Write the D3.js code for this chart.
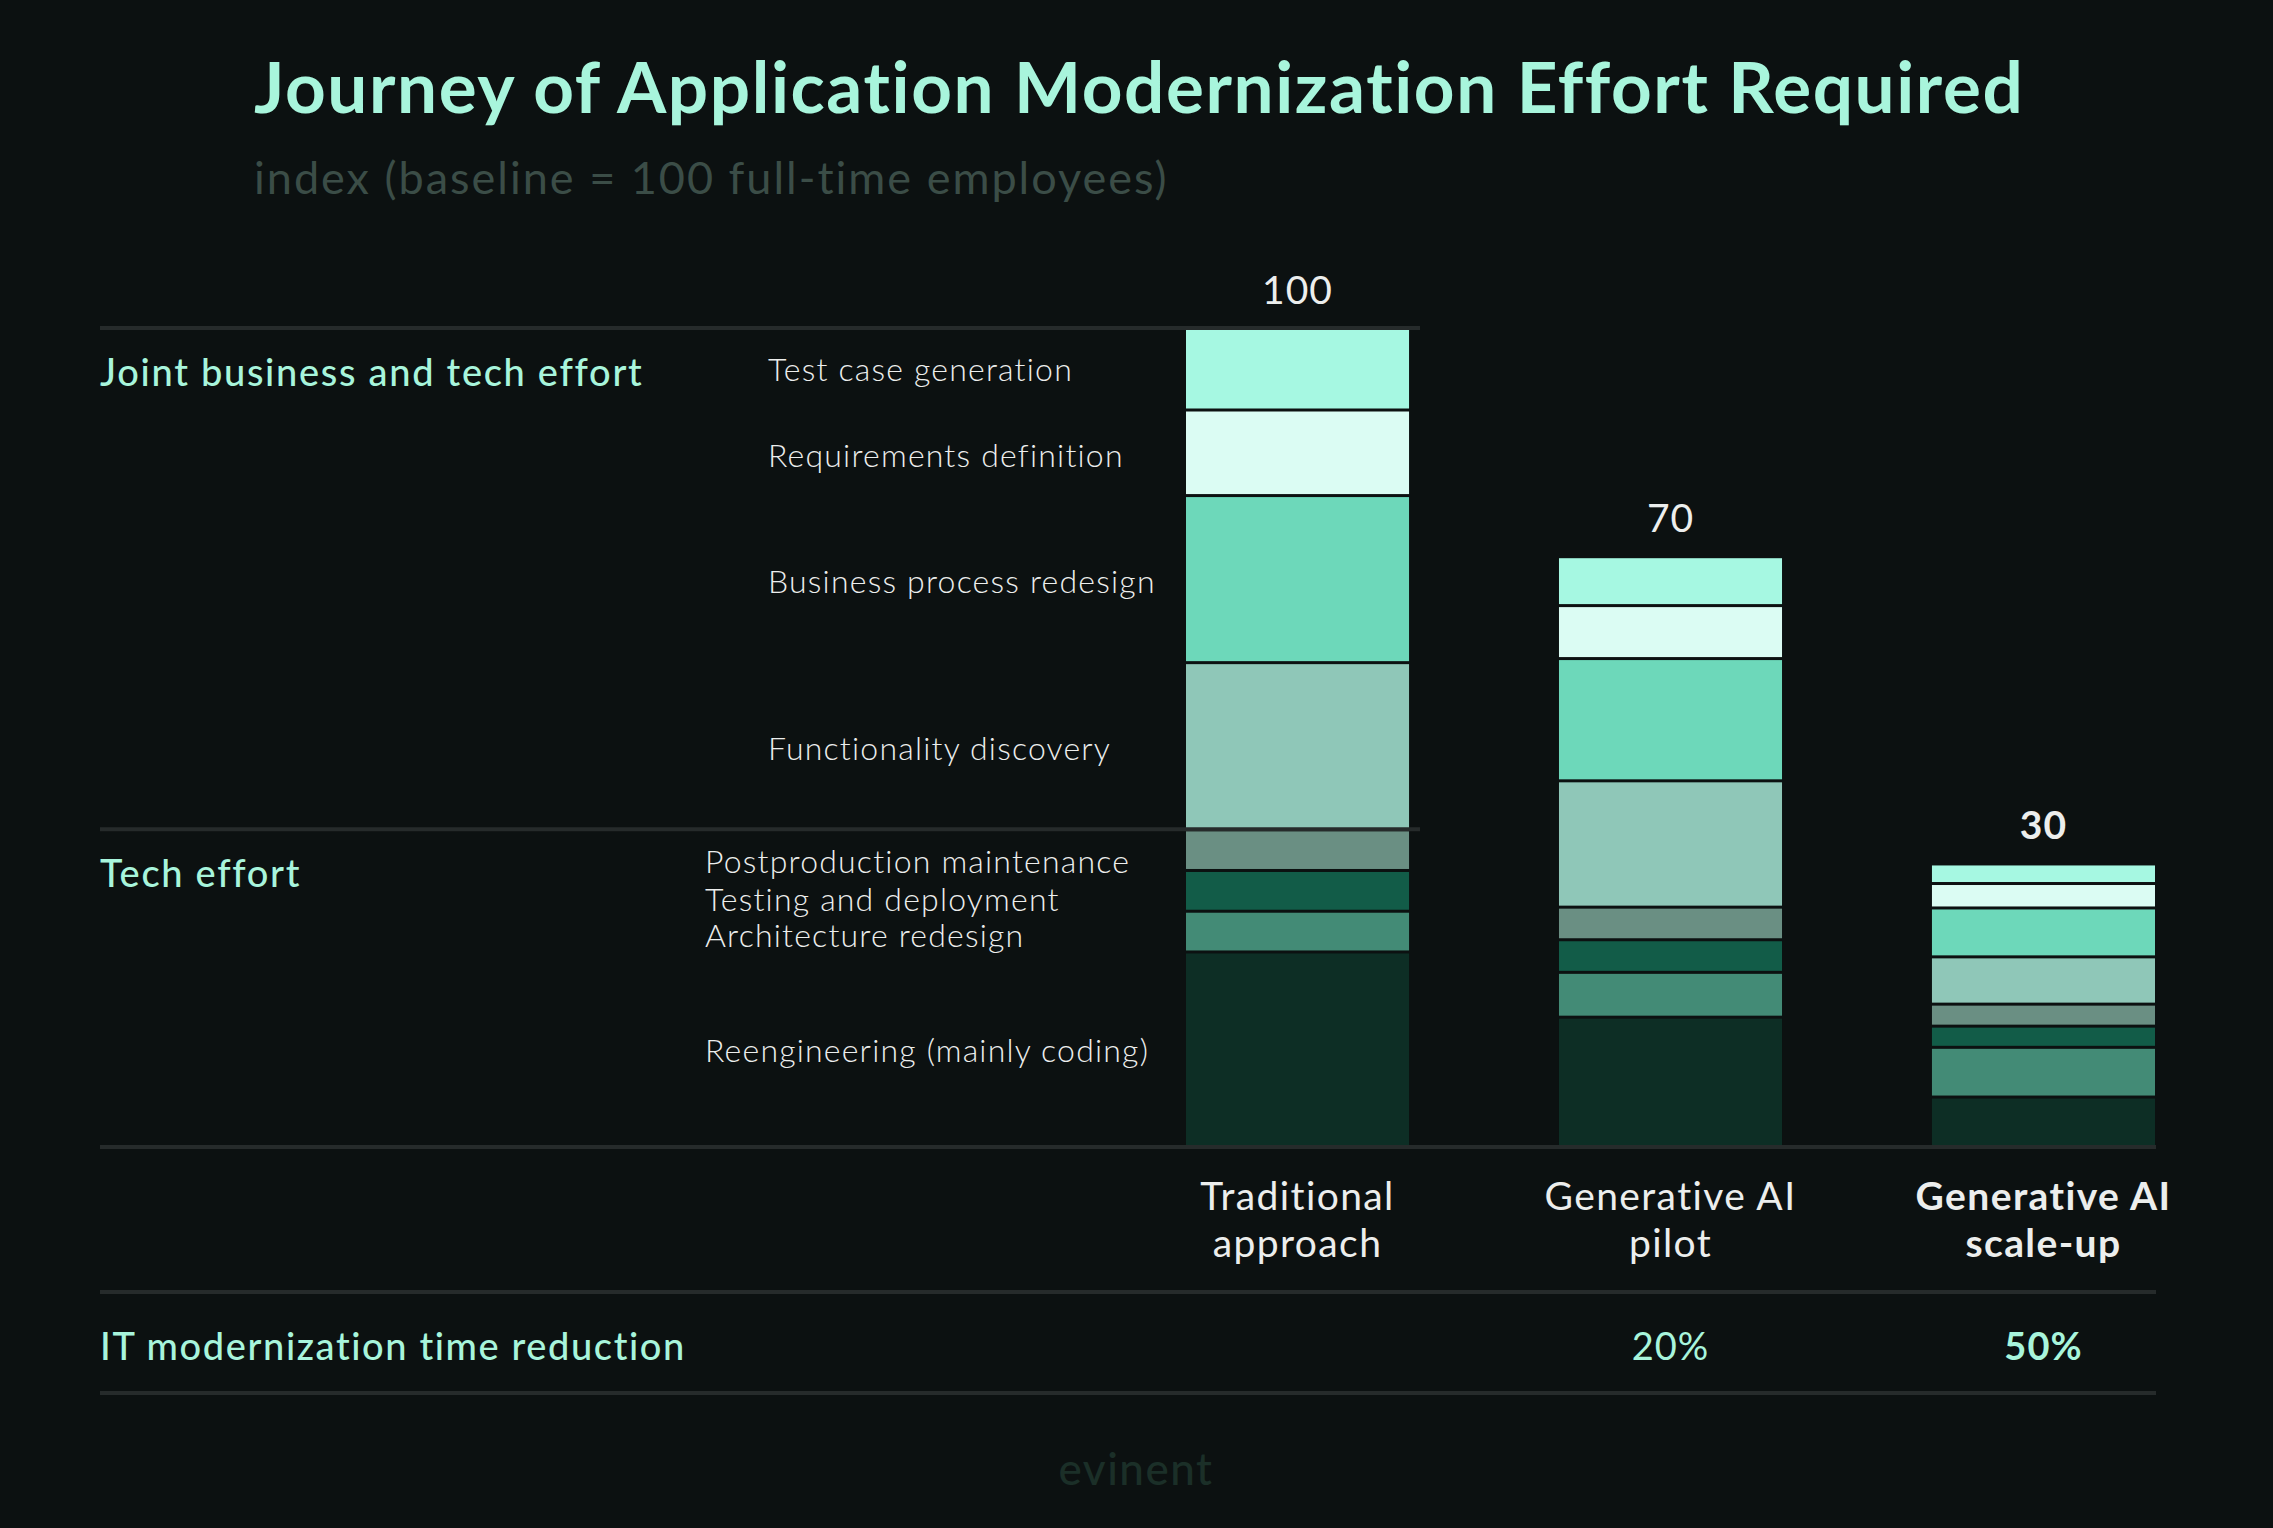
<!DOCTYPE html>
<html lang="en">
  <head>
    <meta charset="utf-8"/>
    <title>Journey of Application Modernization Effort Required</title>
    <script src="https://d3js.org/d3.v7.min.js"></script>
    <style>
      body { margin: 0; background: #0c1111; }
      svg { display: block; }
      text { font-family: Lato, "Open Sans", sans-serif; }
    </style>
  </head>
  <body>
    <script>
    // data, bottom of the stack first
    var approaches = ["Traditional approach", "Generative AI pilot", "Generative AI scale-up"];
    var approachLines = [["Traditional", "approach"], ["Generative AI", "pilot"], ["Generative AI", "scale-up"]];
    var totalLabels = ["100", "70", "30"];
    var timeReduction = ["", "20%", "50%"];
    var activities = ["Reengineering (mainly coding)", "Architecture redesign", "Testing and deployment",
                      "Postproduction maintenance", "Functionality discovery", "Business process redesign",
                      "Requirements definition", "Test case generation"];
    var activityGroup = ["tech", "tech", "tech", "tech", "joint", "joint", "joint", "joint"];
    var groups = ["tech", "joint"];
    var groupNames = ["Tech effort", "Joint business and tech effort"];
    var traditional = [23.5, 5, 5, 5, 20.5, 20.5, 10.5, 10];
    var pilot = [15.5, 5.5, 4, 4, 15.5, 15, 6.5, 6];
    var scaleUp = [5.7, 6.1, 2.6, 2.7, 5.8, 6, 3, 2.4];
    var colors = ["#0d2e25", "#438b76", "#125c48", "#6a8f83", "#8fc7b8", "#6dd8ba", "#dbfcf3", "#a6f8e2"];

    var W = 2273, H = 1528;
    var mint = "#a8f5dc", white = "#eceeed", rule = "#262b2b";
    var left = 100, right = 2156, gap = 3;

    var svg = d3.select("body").append("svg")
        .attr("width", W)
        .attr("height", H);

    var x = d3.scaleBand()
        .domain(approaches)
        .range([1186, 2155])
        .paddingInner(0.402)
        .paddingOuter(0);

    var y = d3.scaleLinear()
        .domain([0, 100])
        .range([1145, 330]);

    // title
    svg.append("text")
        .attr("x", 254).attr("y", 113)
        .attr("fill", mint)
        .attr("font-size", 71)
        .attr("font-weight", 700)
        .attr("letter-spacing", 1.6)
        .text("Journey of Application Modernization Effort Required");

    svg.append("text")
        .attr("x", 254).attr("y", 194)
        .attr("fill", "#3b4d47")
        .attr("font-size", 45)
        .attr("font-weight", 400)
        .attr("letter-spacing", 2)
        .text("index (baseline = 100 full-time employees)");

    // stacked bars
    var series = [traditional, pilot, scaleUp];
    var rows = approaches.map(function(a, i) {
      var r = {approach: a};
      activities.forEach(function(act, j) { r[act] = series[i][j]; });
      return r;
    });
    var stack = d3.stack().keys(activities)(rows);

    svg.append("g").selectAll("g")
      .data(stack)
      .join("g")
        .attr("fill", function(d, i) { return colors[i]; })
      .selectAll("rect")
      .data(function(d) { return d; })
      .join("rect")
        .attr("x", function(d) { return x(d.data.approach); })
        .attr("width", x.bandwidth())
        .attr("y", function(d) { return y(d[1]); })
        .attr("height", function(d) { return y(d[0]) - y(d[1]) - (d[0] > 0 ? gap : 0); });

    // totals above bars
    var tops = series.map(function(s) { return d3.sum(s); });
    svg.append("g").selectAll("text")
      .data(approaches)
      .join("text")
        .attr("x", function(d) { return x(d) + x.bandwidth() / 2; })
        .attr("y", function(d, i) { return y(tops[i]) - 26; })
        .attr("text-anchor", "middle")
        .attr("fill", white)
        .attr("font-size", 39)
        .attr("font-weight", function(d, i) { return i === 2 ? 700 : 400; })
        .attr("letter-spacing", 1)
        .text(function(d, i) { return totalLabels[i]; });

    // group rules and labels (measured on the traditional bar)
    var first = stack.map(function(s) { return s[0]; });
    var groupTop = groups.map(function(g) {
      return d3.max(first.filter(function(d, i) { return activityGroup[i] === g; }), function(d) { return d[1]; });
    });
    var bar1Right = x(approaches[0]) + x.bandwidth() + 11;

    svg.append("g").selectAll("line")
      .data(groups)
      .join("line")
        .attr("x1", left).attr("x2", bar1Right)
        .attr("y1", function(d, i) { return y(groupTop[i]) - 2; })
        .attr("y2", function(d, i) { return y(groupTop[i]) - 2; })
        .attr("stroke", rule)
        .attr("stroke-width", 4);

    svg.append("g").selectAll("text")
      .data(groups)
      .join("text")
        .attr("x", left)
        .attr("y", function(d, i) { return y(groupTop[i]) + 41; })
        .attr("dominant-baseline", "central")
        .attr("fill", mint)
        .attr("font-size", 38)
        .attr("font-weight", 500)
        .attr("letter-spacing", 1.7)
        .text(function(d, i) { return groupNames[i]; });

    // activity labels next to the traditional bar
    var labelShift = [0, 1, 6, 9, 0, 0, 0, -2];
    svg.append("g").selectAll("text")
      .data(first)
      .join("text")
        .attr("x", function(d, i) { return activityGroup[i] === "joint" ? 768 : 705; })
        .attr("y", function(d, i) { return (y(d[0]) + y(d[1])) / 2 + labelShift[i]; })
        .attr("dominant-baseline", "central")
        .attr("fill", white)
        .attr("font-size", 32)
        .attr("font-weight", 300)
        .attr("letter-spacing", 1.2)
        .text(function(d, i) { return activities[i]; });

    // baseline and table rules
    [1147, 1292, 1393].forEach(function(ry) {
      svg.append("line")
          .attr("x1", left).attr("x2", right)
          .attr("y1", ry).attr("y2", ry)
          .attr("stroke", rule)
          .attr("stroke-width", 4);
    });

    // category labels
    var cat = svg.append("g").selectAll("text")
      .data(approaches)
      .join("text")
        .attr("x", function(d) { return x(d) + x.bandwidth() / 2; })
        .attr("y", 1210)
        .attr("text-anchor", "middle")
        .attr("fill", white)
        .attr("font-size", 39)
        .attr("font-weight", function(d, i) { return i === 2 ? 700 : 400; })
        .attr("letter-spacing", 1.4);
    cat.selectAll("tspan")
      .data(function(d, i) { return approachLines[i]; })
      .join("tspan")
        .attr("x", function() { var p = this.parentNode; return p.getAttribute("x"); })
        .attr("dy", function(d, i) { return i === 0 ? 0 : 47; })
        .text(function(d) { return d; });

    // time reduction row
    svg.append("text")
        .attr("x", left).attr("y", 1360)
        .attr("fill", mint)
        .attr("font-size", 38)
        .attr("font-weight", 500)
        .attr("letter-spacing", 1.6)
        .text("IT modernization time reduction");

    svg.append("g").selectAll("text")
      .data(approaches)
      .join("text")
        .attr("x", function(d) { return x(d) + x.bandwidth() / 2; })
        .attr("y", 1360)
        .attr("text-anchor", "middle")
        .attr("fill", mint)
        .attr("font-size", 38)
        .attr("font-weight", function(d, i) { return i === 2 ? 700 : 400; })
        .attr("letter-spacing", 1)
        .text(function(d, i) { return timeReduction[i]; });

    // footer
    svg.append("text")
        .attr("x", 1136).attr("y", 1485)
        .attr("text-anchor", "middle")
        .attr("fill", "#1b2f28")
        .attr("font-size", 44)
        .attr("font-weight", 500)
        .attr("letter-spacing", 1.5)
        .text("evinent");
    </script>
  </body>
</html>
